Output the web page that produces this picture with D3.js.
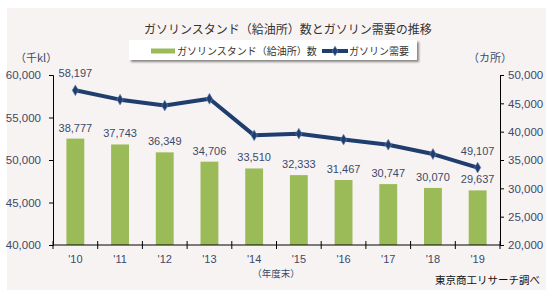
<!DOCTYPE html>
<html>
<head>
<meta charset="utf-8">
<script src="https://cdn.jsdelivr.net/npm/d3@7"></script>
<style>
  body { margin: 0; background: #fff; }
  svg { display: block; }
  text { font-family: "Liberation Sans", Arial, "Noto Sans CJK JP", sans-serif; }
  .jp { font-family: "Noto Sans CJK JP", sans-serif; }
</style>
</head>
<body>
<svg id="chart" width="555" height="300"></svg>
<script>
// years (fiscal year end)
const years = ["'10", "'11", "'12", "'13", "'14", "'15", "'16", "'17", "'18", "'19"];
// gas stations count (カ所) - right axis
const stations = [38777, 37743, 36349, 34706, 33510, 32333, 31467, 30747, 30070, 29637];
// gasoline demand (千kl) - left axis; middle values
const demand = [58197, 57100, 56400, 57200, 52900, 53100, 52400, 51800, 50700, 49107];
const leftTicks = [40000, 45000, 50000, 55000, 60000];
const rightTicks = [20000, 25000, 30000, 35000, 40000, 45000, 50000];

const textColor = '#3b4a68';
const barColor = '#9bbb59';
const lineColor = '#1f3e6e';
const fmt = d3.format(',');

const svg = d3.select('#chart');

const defs = svg.append('defs');
const shadow = defs.append('filter').attr('id', 'shadow')
    .attr('x', '-5%').attr('y', '-20%').attr('width', '115%').attr('height', '160%');
shadow.append('feDropShadow')
    .attr('dx', 2).attr('dy', 2).attr('stdDeviation', 1.2)
    .attr('flood-color', '#000').attr('flood-opacity', 0.45);

// background panel
svg.append('rect')
    .attr('x', 7).attr('y', 8)
    .attr('width', 539).attr('height', 282)
    .attr('fill', '#f8f3f3');

const x = d3.scaleBand().domain(years).range([53, 500]).paddingInner(0.6).paddingOuter(0.3);
const xLine = d => x(d) + x.bandwidth() / 2;
const yL = d3.scaleLinear().domain([40000, 60000]).range([245, 75]);
const yR = d3.scaleLinear().domain([20000, 50000]).range([245, 75]);

// title
svg.append('text')
    .attr('class', 'jp')
    .attr('x', 288).attr('y', 34)
    .attr('text-anchor', 'middle')
    .attr('font-size', 12)
    .attr('fill', '#333')
    .text('ガソリンスタンド（給油所）数とガソリン需要の推移');

// legend
svg.append('rect')
    .attr('x', 129).attr('y', 40)
    .attr('width', 288).attr('height', 20)
    .attr('fill', '#fff')
    .attr('filter', 'url(#shadow)');
svg.append('rect')
    .attr('x', 151).attr('y', 48.5)
    .attr('width', 24).attr('height', 5)
    .attr('fill', barColor);
svg.append('text')
    .attr('class', 'jp')
    .attr('x', 177).attr('y', 55)
    .attr('font-size', 10)
    .attr('fill', '#333')
    .text('ガソリンスタンド（給油所）数');
svg.append('line')
    .attr('x1', 322).attr('x2', 348)
    .attr('y1', 51).attr('y2', 51)
    .attr('stroke', lineColor).attr('stroke-width', 4);
svg.append('path')
    .attr('d', d3.symbol(d3.symbolDiamond, 28)())
    .attr('transform', 'translate(335,51)')
    .attr('fill', lineColor).attr('stroke', '#6d8ab8').attr('stroke-width', 0.6);
svg.append('text')
    .attr('class', 'jp')
    .attr('x', 349).attr('y', 55)
    .attr('font-size', 10)
    .attr('fill', '#333')
    .text('ガソリン需要');

// axis units
svg.append('text')
    .attr('class', 'jp')
    .attr('x', 15).attr('y', 62)
    .attr('font-size', 11)
    .attr('fill', textColor)
    .text('（千kl）');
svg.append('text')
    .attr('class', 'jp')
    .attr('x', 468).attr('y', 62)
    .attr('font-size', 11)
    .attr('fill', textColor)
    .text('（カ所）');

// bars
svg.append('g')
    .selectAll('rect')
    .data(stations)
    .join('rect')
    .attr('x', (d, i) => x(years[i]))
    .attr('y', d => yR(d))
    .attr('width', x.bandwidth())
    .attr('height', d => yR(20000) - yR(d))
    .attr('fill', barColor);

svg.append('g')
    .selectAll('text')
    .data(stations)
    .join('text')
    .attr('x', (d, i) => xLine(years[i]))
    .attr('y', d => yR(d) - 7)
    .attr('text-anchor', 'middle')
    .attr('font-size', 11)
    .attr('fill', textColor)
    .text(d => fmt(d));

// demand line
const line = d3.line()
    .x((d, i) => xLine(years[i]))
    .y(d => yL(d));
svg.append('path')
    .datum(demand)
    .attr('d', line)
    .attr('fill', 'none')
    .attr('stroke', lineColor)
    .attr('stroke-width', 4)
    .attr('stroke-linejoin', 'round');
svg.append('g')
    .selectAll('path')
    .data(demand)
    .join('path')
    .attr('d', d3.symbol(d3.symbolDiamond, 34)())
    .attr('transform', (d, i) => `translate(${xLine(years[i])},${yL(d)})`)
    .attr('fill', lineColor)
    .attr('stroke', '#6d8ab8')
    .attr('stroke-width', 0.6);

// labels on first and last line points
[0, demand.length - 1].forEach(i => {
    svg.append('text')
        .attr('x', xLine(years[i]))
        .attr('y', yL(demand[i]) - 13)
        .attr('text-anchor', 'middle')
        .attr('font-size', 11)
        .attr('fill', textColor)
        .text(fmt(demand[i]));
});

// axes
const axisL = svg.append('g')
    .attr('transform', 'translate(53,0)')
    .call(d3.axisLeft(yL).tickValues(leftTicks).tickFormat(fmt).tickSize(4).tickPadding(8));
const axisR = svg.append('g')
    .attr('transform', 'translate(500,0)')
    .call(d3.axisRight(yR).tickValues(rightTicks).tickFormat(fmt).tickSize(4).tickPadding(4));
[axisL, axisR].forEach(a => {
    a.selectAll('text').attr('font-size', 11.5).attr('fill', textColor)
        .attr('font-family', '"Liberation Sans", Arial, sans-serif');
    a.select('.domain').attr('stroke', '#000');
    a.selectAll('.tick line').attr('stroke', '#000');
});

// x axis: line, boundary ticks, labels
const xg = svg.append('g');
xg.append('line')
    .attr('x1', 53).attr('x2', 500)
    .attr('y1', 245).attr('y2', 245)
    .attr('stroke', '#000');
xg.selectAll('line.tk')
    .data(d3.range(years.length + 1))
    .join('line')
    .attr('class', 'tk')
    .attr('x1', i => 53 + i * (447 / years.length))
    .attr('x2', i => 53 + i * (447 / years.length))
    .attr('y1', 241).attr('y2', 249)
    .attr('stroke', '#000');
xg.selectAll('text')
    .data(years)
    .join('text')
    .attr('x', d => xLine(d))
    .attr('y', 263)
    .attr('text-anchor', 'middle')
    .attr('font-size', 11)
    .attr('fill', textColor)
    .text(d => d);

svg.append('text')
    .attr('class', 'jp')
    .attr('x', 276).attr('y', 277)
    .attr('text-anchor', 'middle')
    .attr('font-size', 9.5)
    .attr('fill', textColor)
    .text('（年度末）');

svg.append('text')
    .attr('class', 'jp')
    .attr('x', 540).attr('y', 284)
    .attr('text-anchor', 'end')
    .attr('font-size', 10.5)
    .attr('fill', '#111')
    .text('東京商工リサーチ調べ');
</script>
</body>
</html>
